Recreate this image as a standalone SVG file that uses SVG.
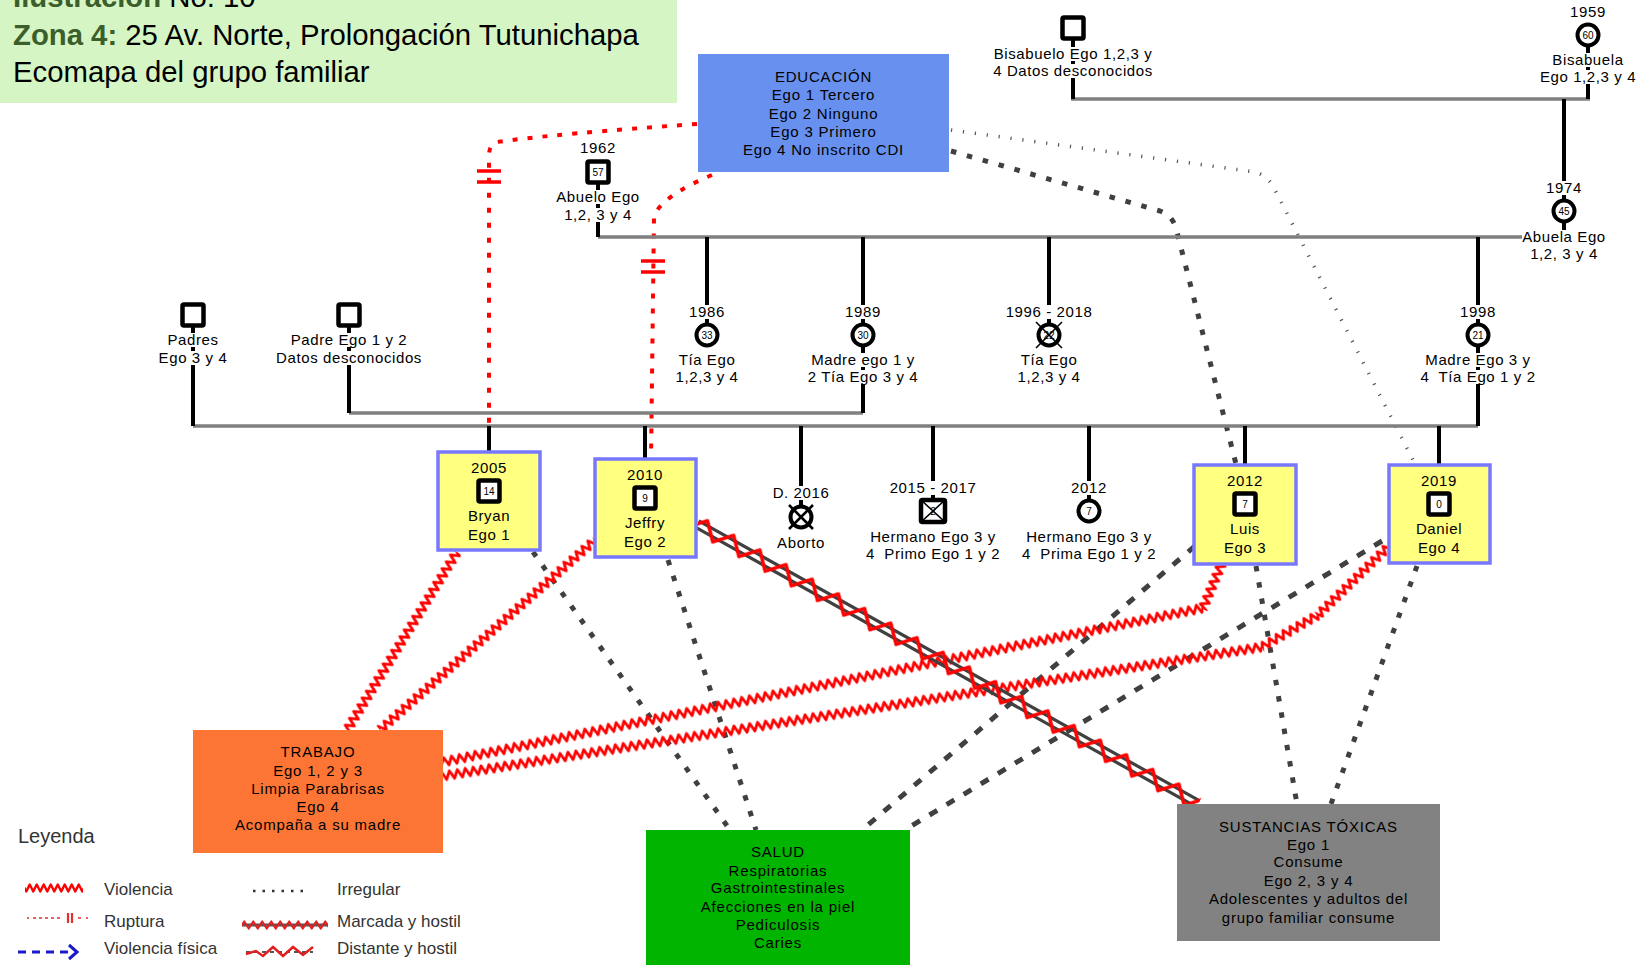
<svg xmlns="http://www.w3.org/2000/svg" width="1652" height="965" viewBox="0 0 1652 965">
<style>
text{font-family:"Liberation Sans",Arial,sans-serif;fill:#000}
.ttl{font-size:29.3px}
.tb{font-weight:bold;fill:#3b5e2b}
.t{font-size:15px;letter-spacing:0.6px;text-anchor:middle}
.b{font-size:15px;letter-spacing:0.8px;text-anchor:middle}
.n{font-size:10px;text-anchor:middle}
.lg{font-size:17px;fill:#333}
.gl{stroke:#808080;stroke-width:3.5;fill:none}
.vl{stroke:#000;stroke-width:4;fill:none}
.sq{fill:#fff;stroke:#000;stroke-width:4.5}
.ci{fill:#fff;stroke:#000;stroke-width:4}
.yb{fill:#ffff80;stroke:#7878ff;stroke-width:3.5}
.rup{stroke:#f00;stroke-width:4;stroke-dasharray:5 10;fill:none}
.rb{stroke:#f00;stroke-width:3.5;fill:none}
.dot{stroke:#404040;stroke-width:5;stroke-dasharray:5.5 11;fill:none}
.dash{stroke:#404040;stroke-width:5;stroke-dasharray:9 11;fill:none}
.thin{stroke:#555;stroke-width:3.5;stroke-dasharray:1.2 10.8;fill:none}
.x{stroke:#000;stroke-width:1.6;fill:none}
</style>
<defs>
<pattern id="zz" patternUnits="userSpaceOnUse" x="0" y="-8" width="8" height="16">
<path d="M-2,12.2 L2,3.8 L6,12.2 L10,3.8" fill="none" stroke="#f00" stroke-width="2.7" stroke-linejoin="round"/>
</pattern>
<pattern id="zl" patternUnits="userSpaceOnUse" x="0" y="-7" width="7" height="14">
<path d="M-1.75,10.5 L1.75,3.5 L5.25,10.5 L8.75,3.5" fill="none" stroke="#f00" stroke-width="2.4" stroke-linejoin="round"/>
</pattern>
<pattern id="zm" patternUnits="userSpaceOnUse" x="0" y="-14" width="30" height="28">
<path d="M-7.5,22 L7.5,6 L22.5,22 L37.5,6" fill="none" stroke="#f00" stroke-width="3.3" stroke-linejoin="round"/>
</pattern>
<pattern id="zs" patternUnits="userSpaceOnUse" x="0" y="-6" width="9" height="12">
<path d="M-2.25,9.5 L2.25,2.5 L6.75,9.5 L11.25,2.5" fill="none" stroke="#e02020" stroke-width="2.2" stroke-linejoin="round"/>
</pattern>
</defs>
<rect width="1652" height="965" fill="#fff"/>

<g id="title">
<rect x="0" y="0" width="677" height="103" fill="#d5f5c4"/>
<text x="13" y="7" class="ttl"><tspan class="tb">Ilustración</tspan> No. 10</text>
<text x="13" y="45" class="ttl"><tspan class="tb">Zona 4:</tspan> 25 Av. Norte, Prolongación Tutunichapa</text>
<text x="13" y="82" class="ttl">Ecomapa del grupo familiar</text>
</g>

<g id="connectors">
<path class="rup" d="M697,124 C610,130 530,137 497,142 Q489,144 489,156 L489,452"/>
<path class="rb" d="M477,171H501M477,182H501"/>
<path class="rup" d="M712,175 Q662,196 654,216 L651,459"/>
<path class="rb" d="M641,261H665M641,272H665"/>
<path class="dot" d="M951,151 L1160,211 Q1172,215 1176,228 L1236,464"/>
<path class="thin" d="M951,130 L1255,172 Q1268,176 1274,188 L1415,464"/>
<path class="dot" d="M533,552 L730,830"/>
<path class="dot" d="M668,560 L756,830"/>
<path class="dash" d="M1195,546 L862,830"/>
<path class="dash" d="M1382,541 L908,828"/>
<path class="dot" d="M1256,566 L1297,804"/>
<path class="dot" d="M1417,566 L1331,804"/>
<rect x="0" y="-8" width="209.2" height="16" fill="url(#zz)" transform="translate(457,552) rotate(121.72)"/>
<rect x="0" y="-8" width="286.9" height="16" fill="url(#zz)" transform="translate(595,540) rotate(138.53)"/>
<rect x="0" y="-8" width="50" height="16" fill="url(#zz)" transform="translate(1222,563) rotate(112.89)"/>
<rect x="0" y="-8" width="775.5" height="16" fill="url(#zz)" transform="translate(1203,608) rotate(168.55)"/>
<rect x="0" y="-8" width="101" height="16" fill="url(#zz)" transform="translate(1390,545) rotate(135.81)"/>
<rect x="0" y="-8" width="65" height="16" fill="url(#zz)" transform="translate(1318,615) rotate(150.26)"/>
<rect x="0" y="-8" width="829.1" height="16" fill="url(#zz)" transform="translate(1262,647) rotate(171.05)"/>
<g transform="translate(697,524) rotate(29.19)">
<path d="M0,-3.5H573.9M0,3.5H573.9" stroke="#404040" stroke-width="3.2" fill="none"/>
<rect x="0" y="-14" width="573.9" height="28" fill="url(#zm)"/>
</g>
</g>

<g id="family-lines">
<path class="gl" d="M1071,99H1590M598,237H1522M349,413H863M193,426H1478"/>
<path class="vl" d="M1564,99V181M1564,195V201M1564,221V230"/>
</g>

<g id="educacion">
<rect x="698" y="54" width="251" height="118" fill="#6890ee"/>
<text class="b" x="823.5" y="82">EDUCACIÓN</text>
<text class="b" x="823.5" y="100">Ego 1 Tercero</text>
<text class="b" x="823.5" y="119">Ego 2 Ninguno</text>
<text class="b" x="823.5" y="137">Ego 3 Primero</text>
<text class="b" x="823.5" y="155">Ego 4 No inscrito CDI</text>
</g>

<g id="trabajo">
<rect x="193" y="730" width="250" height="123" fill="#fd7535"/>
<text class="b" x="318" y="757">TRABAJO</text>
<text class="b" x="318" y="776">Ego 1, 2 y 3</text>
<text class="b" x="318" y="794">Limpia Parabrisas</text>
<text class="b" x="318" y="812">Ego 4</text>
<text class="b" x="318" y="830">Acompaña a su madre</text>
</g>

<g id="salud">
<rect x="646" y="830" width="264" height="140" fill="#00b400"/>
<text class="b" x="778" y="857">SALUD</text>
<text class="b" x="778" y="876">Respiratorias</text>
<text class="b" x="778" y="893">Gastrointestinales</text>
<text class="b" x="778" y="912">Afecciones en la piel</text>
<text class="b" x="778" y="930">Pediculosis</text>
<text class="b" x="778" y="948">Caries</text>
</g>

<g id="sustancias">
<rect x="1177" y="804" width="263" height="137" fill="#828282"/>
<text class="b" x="1308.5" y="832">SUSTANCIAS TÓXICAS</text>
<text class="b" x="1308.5" y="850">Ego 1</text>
<text class="b" x="1308.5" y="867">Consume</text>
<text class="b" x="1308.5" y="886">Ego 2, 3 y 4</text>
<text class="b" x="1308.5" y="904">Adolescentes y adultos del</text>
<text class="b" x="1308.5" y="923">grupo familiar consume</text>
</g>

<g id="bisabuelo">
<path class="vl" d="M1073,38V47M1073,61V64M1073,78V99"/>
<rect class="sq" x="1062.5" y="17.5" width="21" height="21" rx="1.5"/>
<text class="t" x="1073" y="59">Bisabuelo Ego 1,2,3 y</text>
<text class="t" x="1073" y="76">4 Datos desconocidos</text>
</g>

<g id="bisabuela">
<path class="vl" d="M1588,45V53M1588,67V70M1588,84V99"/>
<text class="t" x="1588" y="17">1959</text>
<circle class="ci" cx="1588" cy="35" r="10.5"/>
<text class="n" x="1588" y="38.5">60</text>
<text class="t" x="1588" y="65">Bisabuela</text>
<text class="t" x="1588" y="82">Ego 1,2,3 y 4</text>
</g>

<g id="abuela">
<text class="t" x="1564" y="193">1974</text>
<circle class="ci" cx="1564" cy="211" r="10.5"/>
<text class="n" x="1564" y="214.5">45</text>
<text class="t" x="1564" y="242">Abuela Ego</text>
<text class="t" x="1564" y="259">1,2, 3 y 4</text>
</g>

<g id="abuelo">
<path class="vl" d="M598,182V190M598,204V208M598,222V237"/>
<text class="t" x="598" y="153">1962</text>
<rect class="sq" x="587.5" y="161.5" width="21" height="21" rx="1.5"/>
<text class="n" x="598" y="175.5">57</text>
<text class="t" x="598" y="202">Abuelo Ego</text>
<text class="t" x="598" y="220">1,2, 3 y 4</text>
</g>

<g id="tia-1986">
<path class="vl" d="M707,237V305M707,319V325"/>
<text class="t" x="707" y="317">1986</text>
<circle class="ci" cx="707" cy="335" r="10.5"/>
<text class="n" x="707" y="338.5">33</text>
<text class="t" x="707" y="365">Tía Ego</text>
<text class="t" x="707" y="382">1,2,3 y 4</text>
</g>

<g id="madre-ego12">
<path class="vl" d="M863,237V305M863,319V325M863,345V353M863,367V370M863,384V413"/>
<text class="t" x="863" y="317">1989</text>
<circle class="ci" cx="863" cy="335" r="10.5"/>
<text class="n" x="863" y="338.5">30</text>
<text class="t" x="863" y="365">Madre ego 1 y</text>
<text class="t" x="863" y="382">2 Tía Ego 3 y 4</text>
</g>

<g id="tia-1996">
<path class="vl" d="M1049,237V305M1049,319V325"/>
<text class="t" x="1049" y="317">1996 - 2018</text>
<circle class="ci" cx="1049" cy="335" r="10.5"/>
<text class="n" x="1049" y="338.5">22</text>
<path class="x" d="M1036,322L1062,348M1062,322L1036,348"/>
<text class="t" x="1049" y="365">Tía Ego</text>
<text class="t" x="1049" y="382">1,2,3 y 4</text>
</g>

<g id="madre-ego34">
<path class="vl" d="M1478,237V305M1478,319V325M1478,345V353M1478,367V370M1478,384V426"/>
<text class="t" x="1478" y="317">1998</text>
<circle class="ci" cx="1478" cy="335" r="10.5"/>
<text class="n" x="1478" y="338.5">21</text>
<text class="t" x="1478" y="365">Madre Ego 3 y</text>
<text class="t" x="1478" y="382">4&#160; Tía Ego 1 y 2</text>
</g>

<g id="padres">
<path class="vl" d="M193,325V333M193,347V351M193,365V426"/>
<rect class="sq" x="182.5" y="304.5" width="21" height="21" rx="1.5"/>
<text class="t" x="193" y="345">Padres</text>
<text class="t" x="193" y="363">Ego 3 y 4</text>
</g>

<g id="padre-ego12">
<path class="vl" d="M349,325V333M349,347V351M349,365V413"/>
<rect class="sq" x="338.5" y="304.5" width="21" height="21" rx="1.5"/>
<text class="t" x="349" y="345">Padre Ego 1 y 2</text>
<text class="t" x="349" y="363">Datos desconocidos</text>
</g>

<g id="bryan">
<path class="vl" d="M489,426V452"/>
<rect class="yb" x="438" y="452" width="102" height="98"/>
<text class="t" x="489" y="473">2005</text>
<rect class="sq" x="478.5" y="480.5" width="21" height="21" rx="1.5"/>
<text class="n" x="489" y="494.5">14</text>
<text class="t" x="489" y="521">Bryan</text>
<text class="t" x="489" y="540">Ego 1</text>
</g>

<g id="jeffry">
<path class="vl" d="M645,426V459"/>
<rect class="yb" x="595" y="459" width="101" height="98"/>
<text class="t" x="645" y="480">2010</text>
<rect class="sq" x="634.5" y="487.5" width="21" height="21" rx="1.5"/>
<text class="n" x="645" y="501.5">9</text>
<text class="t" x="645" y="528">Jeffry</text>
<text class="t" x="645" y="547">Ego 2</text>
</g>

<g id="aborto">
<path class="vl" d="M801,426V486M801,500V507"/>
<text class="t" x="801" y="498">D. 2016</text>
<circle class="ci" cx="801" cy="517" r="10.5"/>
<path d="M789,505L813,529M813,505L789,529" stroke="#000" stroke-width="2.6" fill="none"/>
<text class="t" x="801" y="548">Aborto</text>
</g>

<g id="hermano-2015">
<path class="vl" d="M933,426V481M933,495V500"/>
<text class="t" x="933" y="493">2015 - 2017</text>
<rect class="sq" x="921" y="500" width="24" height="22" rx="1.5"/>
<text class="n" x="933" y="514.5">2</text>
<path class="x" d="M921,500L945,522M945,500L921,522"/>
<text class="t" x="933" y="542">Hermano Ego 3 y</text>
<text class="t" x="933" y="559">4&#160; Primo Ego 1 y 2</text>
</g>

<g id="hermano-2012">
<path class="vl" d="M1089,426V481M1089,495V501"/>
<text class="t" x="1089" y="493">2012</text>
<circle class="ci" cx="1089" cy="511" r="10.5"/>
<text class="n" x="1089" y="514.5">7</text>
<text class="t" x="1089" y="542">Hermano Ego 3 y</text>
<text class="t" x="1089" y="559">4&#160; Prima Ego 1 y 2</text>
</g>

<g id="luis">
<path class="vl" d="M1245,426V465"/>
<rect class="yb" x="1194" y="465" width="102" height="99"/>
<text class="t" x="1245" y="486">2012</text>
<rect class="sq" x="1234.5" y="493.5" width="21" height="21" rx="1.5"/>
<text class="n" x="1245" y="507.5">7</text>
<text class="t" x="1245" y="534">Luis</text>
<text class="t" x="1245" y="553">Ego 3</text>
</g>

<g id="daniel">
<path class="vl" d="M1439,426V465"/>
<rect class="yb" x="1389" y="465" width="101" height="98"/>
<text class="t" x="1439" y="486">2019</text>
<rect class="sq" x="1428.5" y="493.5" width="21" height="21" rx="1.5"/>
<text class="n" x="1439" y="507.5">0</text>
<text class="t" x="1439" y="534">Daniel</text>
<text class="t" x="1439" y="553">Ego 4</text>
</g>

<g id="legend">
<text x="18" y="843" style="font-size:20px;fill:#333">Leyenda</text>
<rect x="25" y="-7" width="58" height="14" fill="url(#zl)" transform="translate(0,888)"/>
<text class="lg" x="104" y="895">Violencia</text>
<path d="M27,918H29M33,918H62M78,918H83M86,918H88" stroke="#e03030" stroke-width="1.6" stroke-dasharray="3 3" fill="none"/>
<path d="M68,913V923M72,913V923" stroke="#e03030" stroke-width="2.2"/>
<text class="lg" x="104" y="927">Ruptura</text>
<path d="M18,952H68" stroke="#1a1acc" stroke-width="3" stroke-dasharray="8 6" fill="none"/>
<path d="M69,945L77,952L69,959" stroke="#1a1acc" stroke-width="3" fill="none"/>
<text class="lg" x="104" y="954">Violencia física</text>
<path d="M253,891H308" stroke="#333" stroke-width="2.5" stroke-dasharray="2.5 7" fill="none"/>
<text class="lg" x="337" y="895">Irregular</text>
<path d="M242,925H328" stroke="#555" stroke-width="3" fill="none"/>
<rect x="0" y="-6" width="86" height="12" fill="url(#zs)" transform="translate(242,925)"/>
<text class="lg" x="337" y="927">Marcada y hostil</text>
<path d="M246,952H313" stroke="#555" stroke-width="2" stroke-dasharray="4 4" fill="none"/>
<path d="M246,954L256,951L263,956L273,947L283,956L293,947L303,955L313,947" stroke="#e02020" stroke-width="2.5" fill="none"/>
<text class="lg" x="337" y="954">Distante y hostil</text>
</g>
</svg>
